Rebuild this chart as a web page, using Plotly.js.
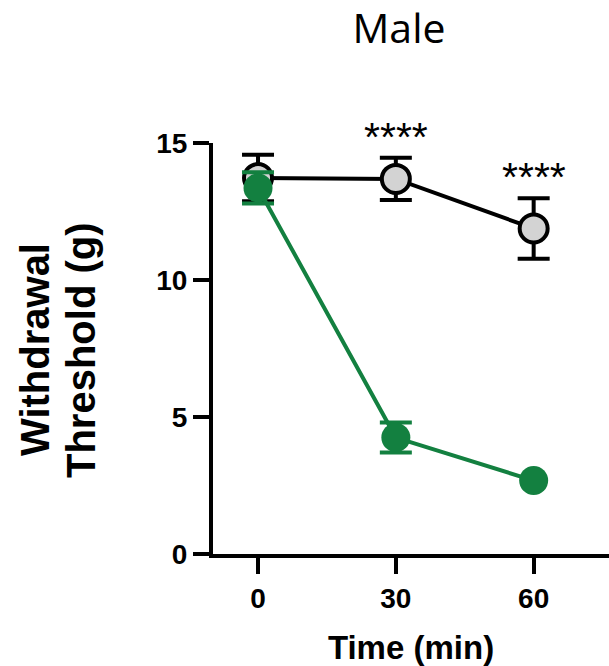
<!DOCTYPE html>
<html><head><meta charset="utf-8">
<script src="https://cdn.plot.ly/plotly-3.0.1.min.js"></script>
<style>body{margin:0;background:#fff}</style>
</head><body>
<div id="chart" style="width:609px;height:666px"></div>
<script>
const timePoints = [0, 30, 60];
const xTickLabels = ["0", "30", "60"];
const controlMean = [13.72, 13.69, 11.88];
const controlErr = [0.85, 0.77, 1.1];
const treatedMean = [13.36, 4.25, 2.68];
const treatedErr = [0.57, 0.55, NaN];
const sigLabels = ["", "****", "****"];
const yTitleLines = ["Withdrawal", "Threshold (g)"];

const green = "#138040";
const boldFont = "Liberation Sans, Arial";
const traces = [
  {x: timePoints, y: controlMean, type: "scatter", mode: "lines+markers",
   line: {color: "#000", width: 4},
   marker: {size: 28, color: "#d3d3d3", line: {color: "#000", width: 4}},
   error_y: {type: "data", array: controlErr, visible: true, color: "#000", thickness: 4, width: 16},
   cliponaxis: false},
  {x: timePoints, y: treatedMean, type: "scatter", mode: "lines+markers",
   line: {color: green, width: 4},
   marker: {size: 29, color: green, line: {color: green, width: 0}},
   error_y: {type: "data", array: treatedErr, visible: true, color: green, thickness: 4, width: 16},
   cliponaxis: false}
];
const annotations = [];
timePoints.forEach((t, i) => {
  if (sigLabels[i]) annotations.push({
    x: t, y: controlMean[i] + controlErr[i], xref: "x", yref: "y",
    text: sigLabels[i], showarrow: false, yanchor: "bottom", yshift: -4,
    font: {family: boldFont, size: 41, color: "#000"}
  });
});
const yTitleX = [35, 81];
yTitleLines.forEach((s, i) => annotations.push({
  x: yTitleX[i], y: 350, xref: "paper", yref: "paper", text: "<b>" + s + "</b>",
  showarrow: false, textangle: -90, xanchor: "center", yanchor: "middle",
  font: {family: boldFont, size: 40, color: "#000"}
}));
const layout = {
  width: 609, height: 666,
  margin: {l: 213, r: 0, t: 143, b: 112},
  paper_bgcolor: "#fff", plot_bgcolor: "#fff",
  showlegend: false,
  title: {text: "Male", x: 399/609, xanchor: "center", y: 1 - 29/666, yanchor: "middle",
          font: {family: "Open Sans, Liberation Sans", size: 41, color: "#000"}},
  xaxis: {range: [-9.8, 76.4], tickvals: timePoints, ticktext: xTickLabels,
          showline: true, linecolor: "#000", linewidth: 4, ticks: "outside", ticklen: 16, tickwidth: 4, tickcolor: "#000",
          showgrid: false, zeroline: false,
          tickfont: {family: boldFont, size: 28, color: "#000", weight: "bold"},
          title: {text: "<b>Time (min)</b>", standoff: 25, font: {family: boldFont, size: 33, color: "#000"}}},
  yaxis: {range: [0, 15], tickvals: [0, 5, 10, 15],
          showline: true, linecolor: "#000", linewidth: 4, ticks: "outside", ticklen: 16, tickwidth: 4, tickcolor: "#000",
          showgrid: false, zeroline: false,
          tickfont: {family: boldFont, size: 28, color: "#000", weight: "bold"}},
  annotations: annotations
};
// convert pixel positions of y-title lines to paper coords
layout.annotations.forEach(a => {
  if (a.xref === "paper") {
    a.x = (a.x - 213) / (609 - 213);
    a.y = (666 - 112 - a.y) / (666 - 143 - 112);
  }
});
Plotly.newPlot("chart", traces, layout, {displayModeBar: false, staticPlot: true});
</script>
</body></html>
